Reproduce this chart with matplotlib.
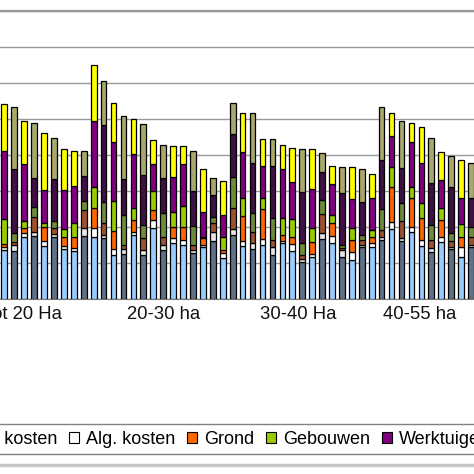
import matplotlib

matplotlib.use("Agg")

import matplotlib.pyplot as plt
from matplotlib.lines import Line2D
from matplotlib.patches import Patch
import numpy as np


plt.rcParams["font.family"] = ["Liberation Sans", "DejaVu Sans"]

# cost components per farm (bottom to top of each stack)
series_names = ["Toegerekende kosten", "Alg. kosten", "Grond", "Gebouwen", "Werktuigen", "Arbeid"]

toegerekend = [1361, 1333, 1722, 1750, 1472, 1722, 1389, 1333, 1750, 1722, 1694, 1222, 1250, 1778, 1222, 1972,
               1361, 1556, 1500, 1278, 1444, 1611, 1139, 1778, 1472, 1389, 1500, 1222, 1556, 1333, 1028, 1167,
               1667, 1556, 1167, 1083, 1444, 1444, 1639, 1944, 1611, 1861, 1472, 1306, 1583, 1389, 1167, 1444]
alg_kosten = [83, 167, 111, 111, 139, 83, 83, 83, 222, 250, 83, 167, 139, 83, 139, 222,
              139, 139, 139, 83, 56, 250, 139, 167, 139, 167, 167, 222, 56, 194, 83, 83,
              167, 194, 194, 222, 56, 111, 83, 194, 83, 139, 167, 111, 139, 56, 278, 56]
grond = [83, 83, 139, 417, 389, 167, 250, 306, 500, 556, 333, 500, 111, 333, 333, 278,
         222, 306, 361, 139, 194, 250, 83, 583, 694, 306, 833, 194, 167, 194, 111, 333,
         528, 361, 56, 333, 139, 167, 194, 972, 472, 806, 611, 222, 472, 167, 278, 222]
gebouwen = [694, 250, 194, 278, 111, 194, 222, 389, 250, 583, 583, 833, 833, 333, 361, 528,
            667, 417, 583, 528, 28, 167, 361, 861, 500, 528, 306, 611, 472, 500, 333, 389,
            389, 222, 83, 333, 139, 194, 583, 556, 500, 306, 417, 417, 333, 222, 361, 278]
werktuigen = [1889, 1778, 1583, 806, 917, 1167, 1083, 1028, 694, 1833, 2139, 1639, 1000, 1500, 1389, 750,
              972, 972, 1167, 972, 694, 611, 611, 1194, 1278, 1389, 889, 1444, 1361, 1028, 1417, 1083,
              778, 861, 1444, 806, 917, 889, 1361, 861, 972, 1250, 1111, 1167, 778, 1278, 722, 806]
arbeid = [1306, 1722, 1194, 1528, 1583, 1139, 1139, 972, 694, 1556, 1222, 1083, 1750, 972, 1417, 667,
          917, 861, 500, 1111, 1194, 472, 944, 861, 1083, 1389, 750, 750, 667, 944, 1194, 1111,
          528, 500, 722, 889, 917, 667, 1472, 639, 1306, 528, 1000, 1250, 778, 861, 1056, 972]

# L = light bar, D = dark bar
bar_kind = list("LDLDLDLLDLDLDLDLDLLDLDLDLDLDLLDLDLDLDLDLDLLDLDLD")

group_labels = ["tot 20 Ha", "20-30 ha", "30-40 Ha", "40-55 ha"]
group_centers = [2.0, 16.0, 29.6, 41.8]

light_colors = ["#99CCFF", "#FFFFFF", "#FF6600", "#99CC00", "#800080", "#FFFF00"]
dark_colors = ["#5E7188", "#E6E6E6", "#9C5230", "#6E8A3A", "#3E1044", "#A8A86A"]

stack = np.array([toegerekend, alg_kosten, grond, gebouwen, werktuigen, arbeid], dtype=float)
x = np.arange(stack.shape[1])

fig = plt.figure(figsize=(4.74, 4.74), dpi=100)
ax = fig.add_axes([0, (474 - 299) / 474, 1, (299 - 11) / 474])

bottom = np.zeros(stack.shape[1])
for k in range(stack.shape[0]):
    colors = [light_colors[k] if kind == "L" else dark_colors[k] for kind in bar_kind]
    ax.bar(x, stack[k], bottom=bottom, width=0.57, color=colors,
           edgecolor="black", linewidth=0.9, zorder=3)
    bottom += stack[k]

ax.set_xlim(-0.433, 47.3)
ax.set_ylim(0, 8000)
ax.set_yticks(np.arange(0, 8001, 1000))
ax.yaxis.grid(True, color="#999999", linewidth=1.0, zorder=0)
ax.set_xticks([])
ax.tick_params(axis="y", length=0, labelleft=False)
for side in ["left", "right"]:
    ax.spines[side].set_visible(False)
ax.spines["top"].set_color("#999999")
ax.spines["top"].set_linewidth(1.6)
ax.spines["bottom"].set_color("#777777")

for label, c in zip(group_labels, group_centers):
    ax.annotate(label, xy=(c, 0), xycoords=ax.get_xaxis_transform(),
                xytext=(0, -11.5), textcoords="offset points",
                ha="center", va="center", fontsize=13.3, color="#111111")

handles = [Patch(facecolor=c, edgecolor="black", linewidth=0.8) for c in light_colors]
fig.legend(handles, series_names, loc="center left", bbox_to_anchor=(-0.293, 1 - 439 / 474),
           ncol=6, frameon=True, fancybox=False, edgecolor="#808080", framealpha=1,
           borderaxespad=0, fontsize=13, handlelength=0.55, handleheight=0.55,
           handletextpad=0.4, columnspacing=0.65, borderpad=0.36)

fig.add_artist(Line2D([0, 1], [1 - 465 / 474, 1 - 465 / 474], transform=fig.transFigure,
                      color="#C8C8C8", linewidth=2.5))

fig.savefig("out.png", dpi=100)
